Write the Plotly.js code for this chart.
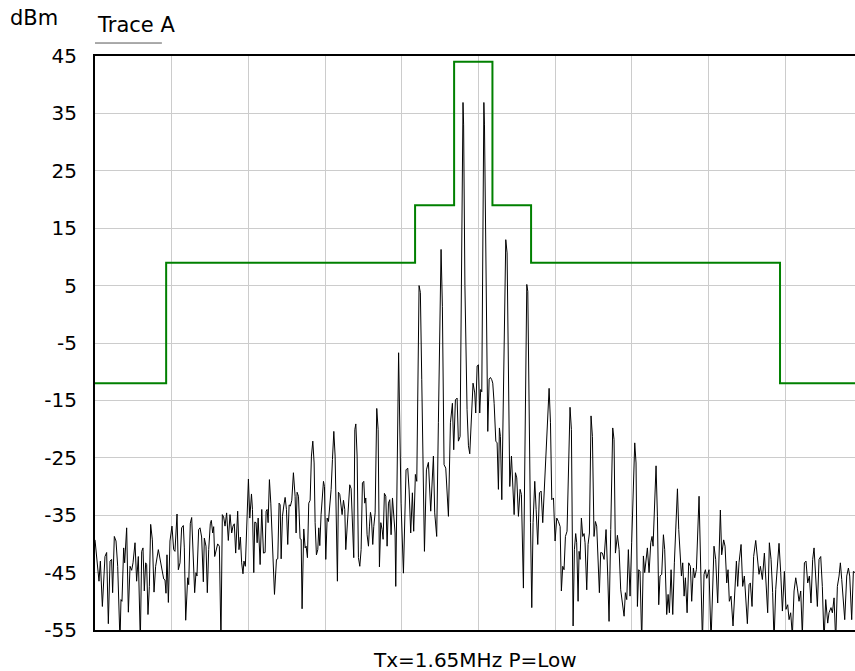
<!DOCTYPE html>
<html><head><meta charset="utf-8">
<script src="https://cdn.plot.ly/plotly-3.0.1.min.js"></script>
<style>html,body{margin:0;padding:0;background:#fff;} #chart{width:855px;height:671px;}</style>
</head><body><div id="chart"></div>
<script>
// Frequency in screen divisions (10 div span), level in dBm
const traceFreq = [
0,0.035,0.052,0.07,0.096,0.13,0.152,0.174,0.196,0.217,0.23,0.252,0.274,0.296,0.326,0.339,0.352,0.374,0.387,0.413,
0.435,0.457,0.478,0.496,0.522,0.543,0.565,0.591,0.609,0.626,0.643,0.661,0.674,0.691,0.709,0.726,0.748,0.77,0.791,0.826,
0.852,0.874,0.896,0.913,0.926,0.939,0.957,0.978,1.004,1.026,1.043,1.07,1.087,1.109,1.13,1.152,1.165,1.183,1.209,1.222,
1.243,1.261,1.283,1.3,1.317,1.33,1.352,1.37,1.391,1.413,1.426,1.448,1.465,1.483,1.504,1.517,1.535,1.548,1.561,1.578,
1.6,1.622,1.643,1.661,1.678,1.696,1.717,1.739,1.761,1.783,1.8,1.817,1.835,1.861,1.878,1.896,1.913,1.93,1.943,1.961,
1.983,2.001,2.019,2.041,2.054,2.071,2.084,2.101,2.115,2.128,2.154,2.175,2.197,2.219,2.232,2.245,2.258,2.275,2.293,2.315,
2.341,2.367,2.384,2.401,2.415,2.428,2.445,2.462,2.48,2.497,2.514,2.532,2.549,2.567,2.588,2.61,2.623,2.636,2.654,2.675,
2.689,2.701,2.723,2.741,2.754,2.771,2.788,2.806,2.823,2.841,2.858,2.871,2.888,2.906,2.919,2.932,2.949,2.98,2.993,3.01,
3.028,3.045,3.062,3.08,3.097,3.115,3.132,3.149,3.162,3.175,3.193,3.21,3.223,3.241,3.258,3.271,3.284,3.306,3.323,3.341,
3.358,3.375,3.389,3.402,3.419,3.436,3.454,3.471,3.488,3.506,3.519,3.532,3.549,3.567,3.58,3.593,3.606,3.623,3.636,3.654,
3.675,3.693,3.71,3.728,3.745,3.758,3.775,3.793,3.81,3.828,3.845,3.862,3.88,3.897,3.914,3.923,3.945,3.96,3.992,4.023,
4.057,4.079,4.097,4.118,4.14,4.157,4.179,4.197,4.227,4.244,4.262,4.279,4.297,4.323,4.349,4.379,4.414,4.431,4.457,4.479,
4.514,4.531,4.553,4.575,4.61,4.636,4.662,4.679,4.701,4.723,4.74,4.762,4.785,4.794,4.8,4.808,4.825,4.853,4.871,4.888,
4.91,4.931,4.953,4.966,4.984,5.001,5.018,5.031,5.045,5.06,5.066,5.072,5.08,5.1,5.123,5.141,5.158,5.175,5.188,5.206,
5.228,5.245,5.262,5.275,5.288,5.306,5.358,5.375,5.41,5.432,5.449,5.467,5.484,5.501,5.523,5.545,5.562,5.588,5.632,5.645,
5.68,5.697,5.714,5.736,5.754,5.775,5.797,5.819,5.84,5.862,5.884,5.906,5.923,5.941,5.958,5.98,6.001,6.023,6.045,6.067,
6.083,6.101,6.118,6.136,6.157,6.196,6.214,6.236,6.253,6.27,6.283,6.301,6.314,6.327,6.344,6.362,6.379,6.392,6.414,6.431,
6.449,6.47,6.488,6.509,6.527,6.544,6.562,6.579,6.596,6.618,6.64,6.666,6.688,6.705,6.727,6.753,6.77,6.788,6.814,6.836,
6.857,6.879,6.901,6.918,6.936,6.957,6.979,7.0,7.04,7.057,7.075,7.092,7.109,7.131,7.153,7.17,7.188,7.205,7.227,7.249,
7.266,7.279,7.318,7.336,7.353,7.37,7.392,7.414,7.431,7.457,7.475,7.492,7.514,7.536,7.557,7.597,7.614,7.631,7.649,7.666,
7.684,7.701,7.723,7.744,7.766,7.783,7.805,7.822,7.844,7.879,7.897,7.923,7.944,7.962,7.979,8.009,8.035,8.074,8.096,8.122,
8.157,8.174,8.2,8.218,8.24,8.257,8.274,8.296,8.322,8.348,8.366,8.383,8.4,8.427,8.448,8.47,8.487,8.509,8.531,8.548,
8.57,8.591,8.618,8.644,8.661,8.679,8.705,8.731,8.753,8.774,8.796,8.818,8.839,8.857,8.879,8.9,8.922,8.944,8.966,8.992,
9.013,9.035,9.053,9.074,9.096,9.118,9.14,9.161,9.183,9.205,9.226,9.253,9.274,9.296,9.318,9.339,9.361,9.379,9.4,9.422,
9.444,9.466,9.487,9.509,9.531,9.557,9.574,9.6,9.618,9.64,9.661,9.683,9.705,9.722,9.74,9.757,9.779,9.805,9.827,9.844,
9.87,9.892,9.913
];
const traceLevel = [
-39.3,-45.1,-46.5,-43.0,-50.9,-42.2,-41.5,-53.9,-43.0,-42.7,-48.5,-38.7,-39.5,-43.9,-57,-49.7,-50.0,-40.7,-43.3,-37.2,
-51.9,-43.9,-44.6,-43.3,-39.8,-46.5,-42.2,-57,-41.3,-40.7,-48.2,-43.3,-43.6,-52.3,-47.4,-36.6,-39.3,-48.4,-43.9,-41.0,
-42.7,-44.2,-46.1,-46.3,-48.6,-41.9,-50.2,-39.5,-36.9,-41.0,-41.3,-34.8,-44.5,-43.3,-37.2,-36.8,-40.7,-53.3,-45.9,-47.1,
-36.4,-35.4,-43.9,-48.5,-45.0,-45.6,-37.5,-37.2,-38.8,-46.6,-39.0,-40.4,-48.5,-41.0,-36.5,-35.9,-38.1,-37.0,-42.2,-41.0,
-40.0,-40.4,-57,-34.9,-35.3,-36.9,-34.6,-39.4,-34.9,-38.1,-36.9,-36.5,-41.6,-34.3,-41.0,-38.8,-43.3,-45.2,-43.0,-43.9,
-36.6,-28.7,-35.5,-31.3,-34.0,-45.0,-36.2,-36.3,-39.8,-35.5,-43.6,-34.0,-41.6,-41.5,-34.3,-34.0,-36.3,-28.8,-32.9,-39.8,
-48.8,-42.7,-42.6,-32.9,-33.2,-42.6,-35.2,-33.4,-31.9,-34.0,-40.1,-33.2,-33.4,-32.4,-27.6,-31.7,-38.1,-31.0,-31.7,-39.1,
-39.2,-51.3,-37.4,-40.7,-40.4,-42.4,-32.9,-32.4,-24.7,-22.1,-25.9,-36.3,-41.9,-41.0,-37.2,-40.3,-34.9,-29.1,-30.0,-42.7,
-35.5,-36.1,-33.4,-30.5,-25.3,-20.4,-24.7,-35.8,-46.5,-31.0,-31.4,-33.4,-34.9,-32.4,-34.0,-41.0,-37.8,-32.0,-29.7,-30.4,
-35.2,-42.4,-20.1,-19.1,-24.7,-42.4,-43.9,-41.0,-29.4,-29.1,-32.9,-32.0,-38.4,-40.4,-36.9,-34.5,-35.5,-40.1,-37.0,-34.6,
-16.4,-20.1,-44.0,-36.3,-37.5,-39.2,-31.2,-31.7,-40.4,-32.9,-32.3,-38.4,-32.0,-35.2,-38.1,-47.4,-20.1,-6.7,-32.9,-45.1,
-27.1,-26.8,-30.6,-38.1,-31.1,-37.8,-27.9,-29.1,5.0,3.8,-11.4,-27.6,-41.3,-27.1,-25.8,-34.3,-24.7,-34.6,-38.7,-18.9,
11.3,1.4,-26.2,-26.8,-35.2,-18.9,-15.5,-23.6,-14.9,-14.6,-22.1,-21.3,10,33,36.9,33,5,-16.6,-22.9,-24.3,
-18.4,-12.0,-13.7,-17.2,-9.0,-8.8,-17.2,-13.1,-13.5,10,33,36.9,33,2,-20.4,-11.3,-11.0,-11.4,-12.0,-15.5,
-22.1,-22.4,-30.5,-19.8,-21.3,-32.3,13.0,10.7,-30.0,-24.7,-30.5,-34.9,-27.6,-28.5,-35.2,-30.5,-31.4,-47.7,5.2,4.0,
-36.3,-51.1,-36.3,-29.1,-34.0,-40.1,-31.1,-30.8,-36.3,-30.5,-25.3,-18.1,-12.9,-18.9,-32.3,-32.0,-39.5,-35.5,-36.1,-37.0,
-48.2,-43.9,-44.5,-38.7,-37.8,-16.2,-20.1,-54.3,-41.0,-38.2,-39.8,-50.0,-41.3,-42.7,-35.5,-38.7,-38.2,-39.8,-48.0,-40.1,
-38.1,-17.7,-21.3,-38.7,-36.1,-36.9,-44.5,-48.5,-41.5,-41.6,-42.7,-37.5,-45.6,-53.5,-37.5,-19.8,-21.8,-41.6,-38.5,-41.0,
-48.0,-50.9,-52.6,-48.5,-49.7,-41.0,-49.1,-39.8,-22.4,-25.9,-50.9,-44.5,-44.8,-57,-42.1,-45.0,-42.1,-40.7,-45.0,-39.8,
-38.7,-40.4,-26.4,-35.2,-50.6,-45.6,-45.3,-38.4,-41.0,-52.3,-48.8,-52.0,-44.5,-52.3,-43.3,-30.4,-37.5,-42.7,-45.6,-43.3,
-49.1,-45.9,-52.0,-43.3,-43.9,-50.0,-44.2,-45.9,-44.5,-31.7,-42.7,-57,-45.3,-44.5,-46.0,-44.5,-57,-40.4,-42.7,-50.3,
-34.1,-41.9,-39.3,-40.4,-46.8,-44.5,-50.0,-49.1,-54.3,-47.4,-43.0,-47.4,-43.3,-40.1,-47.4,-45.6,-48.5,-53.9,-47.1,-46.8,
-50.9,-42.2,-39.4,-43.9,-45.3,-43.9,-46.2,-41.6,-47.9,-52.0,-39.8,-42.7,-48.5,-57,-47.9,-43.9,-39.9,-45.0,-51.7,-44.8,
-51.4,-50.6,-53.2,-52.0,-56,-48.2,-45.9,-47.7,-50.0,-48.2,-56,-43.3,-43.0,-46.8,-45.6,-50.3,-42.7,-40.7,-45.6,-50.9,
-42.7,-42.2,-47.4,-57,-49.7,-53.8,-52.0,-51.1,-52.0,-49.4,-57,-47.4,-45.6,-43.3,-46.2,-49.1,-53.2,-45.6,-44.2,-45.6,
-53.2,-44.8,-45.0
];
const maskFreq  = [0, 0.928, 4.175, 4.684, 5.184, 5.688, 8.935, 9.913];
const maskLevel = [-12, 9, 19, 44, 19, 9, -12, -12];
const yTickVals = [45, 35, 25, 15, 5, -5, -15, -25, -35, -45, -55];
const yTickText = ["45","35","25","15","5","-5","-15","-25","-35","-45","-55"];
const xRange = [0, 9.913];
const yRange = [-55, 45];
const yUnit = "dBm";
const traceName = "Trace A";
const xTitle = "Tx=1.65MHz P=Low";

const FONT = "DejaVu Sans, Liberation Sans, Arial, sans-serif";
const data = [
  {x: traceFreq, y: traceLevel, type: "scatter", mode: "lines",
   line: {color: "#000000", width: 1}, hoverinfo: "skip", showlegend: false},
  {x: maskFreq, y: maskLevel, type: "scatter", mode: "lines",
   line: {color: "#008000", width: 2, shape: "hv"}, hoverinfo: "skip", showlegend: false}
];
const layout = {
  width: 855, height: 671,
  margin: {l: 95, r: 0, t: 56, b: 41, pad: 0},
  paper_bgcolor: "#ffffff", plot_bgcolor: "#ffffff",
  font: {family: FONT, size: 20, color: "#000"},
  showlegend: false,
  xaxis: {range: xRange, tick0: 0, dtick: 1, showticklabels: false, ticks: "",
          showgrid: true, gridcolor: "#cccccc", gridwidth: 1, zeroline: false,
          showline: true, linecolor: "#000", linewidth: 2, mirror: true, fixedrange: true},
  yaxis: {range: yRange, tickmode: "array", tickvals: yTickVals, ticktext: yTickText,
          ticks: "", ticklabelstandoff: 12, tickfont: {family: FONT, size: 20, color: "#000"},
          showgrid: true, gridcolor: "#cccccc", gridwidth: 1, zeroline: false,
          showline: true, linecolor: "#000", linewidth: 2, mirror: false, fixedrange: true},
  annotations: [
    {text: yUnit, xref: "paper", yref: "paper", x: -0.1145, y: 1.066, xanchor: "left", yanchor: "middle",
     showarrow: false, font: {family: FONT, size: 21, color: "#000"}},
    {text: traceName, xref: "paper", yref: "paper", x: 0, y: 1.054, xanchor: "left", yanchor: "middle",
     showarrow: false, font: {family: FONT, size: 21, color: "#000"}},
    {text: xTitle, xref: "paper", yref: "paper", x: 0.5, y: -0.0523, xanchor: "center", yanchor: "middle",
     showarrow: false, font: {family: FONT, size: 20, color: "#000"}}
  ],
  shapes: [
    {type: "line", xref: "paper", yref: "paper", x0: 0, x1: 0.088, y0: 1.0226, y1: 1.0226,
     line: {color: "#555555", width: 1}}
  ]
};
Plotly.newPlot("chart", data, layout, {staticPlot: true, displayModeBar: false});
</script>
</body></html>
